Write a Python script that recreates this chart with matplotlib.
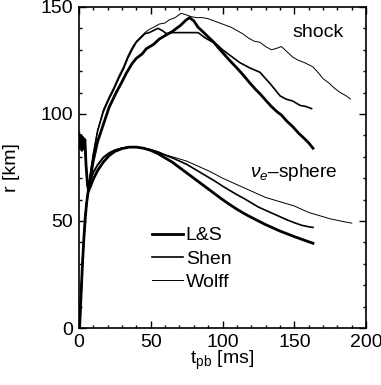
import matplotlib
matplotlib.use("Agg")
import matplotlib.pyplot as plt
from matplotlib.ticker import MultipleLocator

plt.rcParams['font.family'] = ['Liberation Sans', 'DejaVu Sans']
plt.rcParams['mathtext.fontset'] = 'custom'
plt.rcParams['mathtext.rm'] = 'Liberation Sans'
plt.rcParams['mathtext.it'] = 'Liberation Sans:italic'

# ---- data ----
labels = ["L&S", "Shen", "Wolff"]
widths = [2.0, 1.2, 0.7]

early_t = [0, 0.7, 1.4, 2.1, 2.8, 3.5, 4.2, 5.0, 6.0, 6.8]
early_r = [91, 84, 90, 83, 89, 84, 88, 76, 67, 64]

shock_ls_t = early_t + [8, 10, 13, 17, 21, 26, 30, 33, 37, 40, 44, 47, 52, 56, 61, 65, 68, 71, 74, 77,
                        80, 83, 87, 90, 94, 97, 101, 105, 110, 114, 119, 123, 126, 130, 134, 138, 141,
                        145, 149, 153, 157, 160, 163]
shock_ls_r = early_r + [70, 78, 87, 95, 103, 110, 115, 119, 123.5, 126, 128, 130.5, 132.5, 135, 137, 138.5,
                        140, 141.5, 143.5, 145, 143.5, 140.5, 138, 136, 133.5, 131, 128, 125, 121.5,
                        118.5, 114.5, 111.5, 109.5, 106.5, 103.5, 101, 99.5, 96.5, 94, 91, 88.5, 86.5, 84]

shock_shen_t = early_t + [8, 10, 13, 17, 21, 24, 28, 31, 34, 37, 40, 43, 46, 49, 52, 55, 58, 61, 64, 70,
                          78, 83, 88, 92, 96, 100, 105, 112, 119, 126, 130, 133, 137, 140, 144, 149, 154,
                          158, 162]
shock_shen_r = early_r + [72, 81, 92, 101, 107, 111, 117, 121, 126, 130, 133.5, 135.5, 137.5, 138, 139, 140,
                          139, 137.5, 138, 138, 138, 138, 135.5, 134, 132.5, 130, 127.5, 124, 121.5, 119.5,
                          116.5, 114.3, 111, 108.5, 107, 106, 104, 103.5, 102.5]

shock_wolff_t = early_t + [8, 10, 13, 17, 21, 24, 28, 31, 34, 37, 40, 43, 46, 49, 52, 56, 60, 63, 67, 71,
                           74, 78, 82, 86, 90, 94, 98, 102, 106, 110, 114, 118, 122, 126, 130, 134, 137,
                           141, 145, 149, 153, 157, 160, 163, 167, 170, 174, 178, 182, 186, 189]
shock_wolff_r = early_r + [72, 81, 92, 102, 108, 112, 118, 122, 127, 131, 134, 136, 138, 139.5, 140.5, 142,
                           142.5, 144, 145, 147, 146.5, 145.5, 145, 145, 144.5, 143.5, 142.5, 141.5, 140.5,
                           139, 137.5, 135.5, 134, 133.5, 131.5, 130, 130.5, 131.5, 129, 126.5, 125, 124,
                           123, 122, 119, 116.5, 114.5, 112, 110, 108.5, 107]

nu_early_t = [0.5, 1.5, 2.5, 3.5, 4.5, 5.5, 6.5]
nu_early_r = [0, 15, 30, 42, 52, 59, 64]

nu_ls_t = nu_early_t + [8, 10, 13, 17, 21, 25, 30, 35, 40, 45, 50, 55, 60, 65, 70, 75, 80, 85, 90, 95, 100,
                        105, 110, 115, 120, 125, 130, 135, 140, 145, 150, 155, 160, 163]
nu_ls_r = nu_early_r + [66, 69.5, 73.5, 77.5, 80.5, 82.5, 83.8, 84.5, 84.5, 84, 83, 81.5, 79.5, 77.5, 75,
                        72.5, 70, 67.5, 65, 62.5, 60, 57.7, 55.5, 53.5, 51.7, 50, 48.3, 46.8, 45.3, 44,
                        42.7, 41.5, 40.3, 39.6]

nu_shen_t = nu_early_t + [8, 10, 13, 17, 21, 25, 30, 35, 40, 45, 50, 55, 60, 65, 70, 75, 80, 85, 90, 95, 100,
                          105, 110, 115, 120, 125, 130, 135, 140, 145, 150, 155, 160, 163]
nu_shen_r = nu_early_r + [68.5, 72.5, 76, 79.5, 81.5, 83, 84, 84.5, 84.5, 84, 83.3, 82.3, 80.8, 79.5, 78,
                          76.5, 74.5, 72.5, 70.5, 68.5, 66.3, 64.3, 62.3, 60.5, 58.5, 56.5, 55, 53.5, 52,
                          50.5, 49.2, 48, 47.3, 47]

nu_wolff_t = nu_early_t + [8, 10, 13, 17, 21, 25, 30, 35, 40, 45, 50, 55, 60, 65, 70, 75, 80, 85, 90, 95, 100,
                           105, 110, 115, 120, 125, 130, 135, 140, 145, 150, 155, 160, 165, 170, 175, 180,
                           185, 190]
nu_wolff_r = nu_early_r + [69, 73, 76.5, 80, 82, 83.3, 84.2, 84.6, 84.5, 84, 83.3, 82.3, 81, 80, 79, 78,
                           76.5, 75, 73.5, 71.8, 70, 68.5, 67, 65.5, 64, 62.5, 61, 60, 59, 58, 57, 55.5,
                           54, 53, 52, 51, 50.3, 49.6, 49]

# ---- figure ----
fig = plt.figure(figsize=(3.81, 3.85), dpi=100)
ax = fig.add_axes([0.207, 0.148, 0.754, 0.834])

shock = [(shock_ls_t, shock_ls_r), (shock_shen_t, shock_shen_r), (shock_wolff_t, shock_wolff_r)]
nus = [(nu_ls_t, nu_ls_r), (nu_shen_t, nu_shen_r), (nu_wolff_t, nu_wolff_r)]
for (st, sr), (nt, nr), lab, lw in zip(shock, nus, labels, widths):
    ax.plot(st, sr, color='black', lw=lw, label=lab)
    ax.plot(nt, nr, color='black', lw=lw)

ax.set_xlim(0, 200)
ax.set_ylim(0, 150)
ax.xaxis.set_major_locator(MultipleLocator(50))
ax.xaxis.set_minor_locator(MultipleLocator(10))
ax.yaxis.set_major_locator(MultipleLocator(50))
ax.yaxis.set_minor_locator(MultipleLocator(10))
ax.tick_params(which='both', direction='in', top=True, right=True, labelsize=14, width=1.0)
ax.tick_params(which='major', length=5, pad=4)
ax.tick_params(which='minor', length=2.5)
for s in ax.spines.values():
    s.set_linewidth(1.2)

ax.set_xlabel("t$_{\\rm pb}$ [ms]", fontsize=14, labelpad=-1)
ax.set_ylabel("r [km]", fontsize=14)
ax.yaxis.set_label_coords(-0.206, 0.5)

ax.text(149, 138, "shock", fontsize=14, va='center', ha='left')
ax.text(119, 72.5, "$\\nu_e$\u2013sphere", fontsize=13.8, va='center', ha='left')

leg = ax.legend(loc='center left', bbox_to_anchor=(0.254, 0.215), frameon=False, fontsize=14,
                handlelength=1.6, handletextpad=0.15, labelspacing=0.3, borderpad=0, borderaxespad=0)

fig.savefig("out.png", dpi=100)
